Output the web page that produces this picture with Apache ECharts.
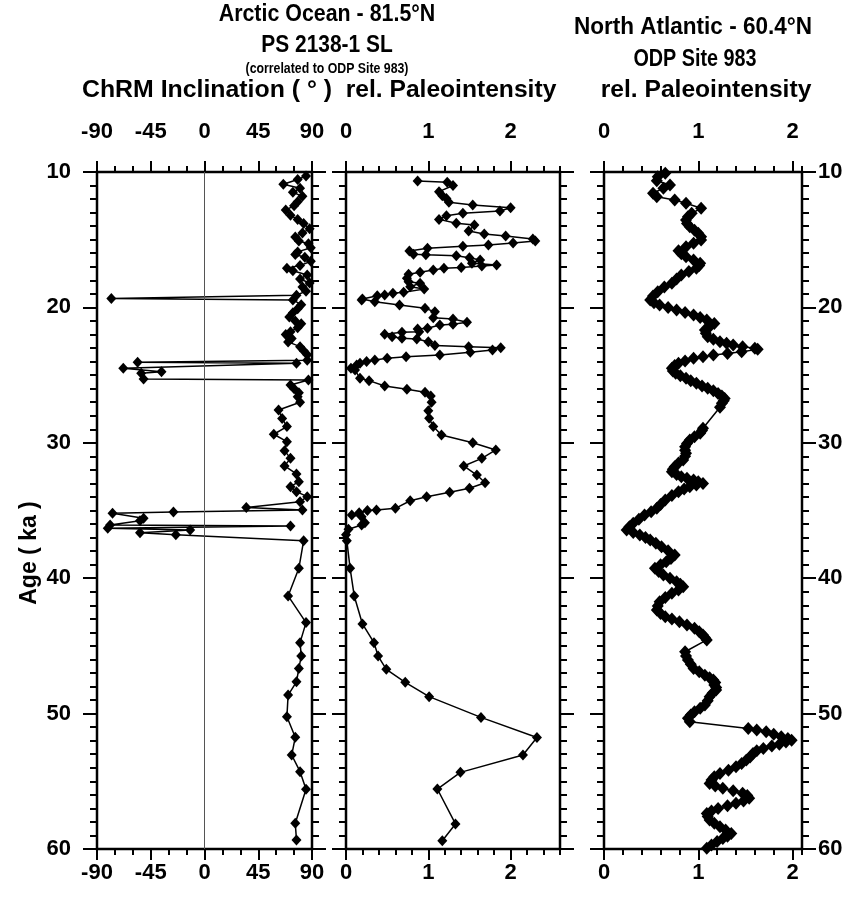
<!DOCTYPE html>
<html>
<head>
<meta charset="utf-8">
<script src="https://cdn.jsdelivr.net/npm/echarts@6/dist/echarts.min.js"></script>
<style>
  html, body { margin: 0; padding: 0; background: #fff; }
  #chart { width: 866px; height: 901px; }
</style>
</head>
<body>
<div id="chart"></div>
<script>
// PS 2138-1 SL, ChRM inclination (deg) vs age (ka)
const incAge = [10.3, 10.55, 10.9, 11.2, 11.5, 11.8, 12.2, 12.5, 12.8, 13.2, 13.5, 13.8, 14.2, 14.5, 14.8,
  15.1, 15.3, 15.6, 15.9, 16.1, 16.3, 16.6, 16.9, 17.1, 17.3, 17.6, 17.9, 18.2, 18.5, 18.8, 19.1, 19.35,
  19.45, 19.8, 20.1, 20.4, 20.7, 21.0, 21.2, 21.5, 21.8, 22.0, 22.3, 22.55, 22.9, 23.2, 23.5, 23.9, 24.06,
  24.13, 24.5, 24.75, 24.87, 25.29, 25.36, 25.73, 26.0, 26.3, 26.6, 27.0, 27.58, 28.2, 28.8, 29.37, 29.92,
  30.58, 31.15, 31.71, 32.3, 32.87, 33.24, 33.61, 33.98, 34.35, 34.77, 34.96, 35.12, 35.2, 35.58, 35.75,
  36.07, 36.15, 36.32, 36.44, 36.64, 36.8, 37.23, 39.27, 41.31, 43.28, 44.76, 45.75, 46.66, 47.65, 48.63,
  50.23, 51.75, 53.06, 54.29, 55.59, 58.1, 59.34];
const incVal = [85, 78, 66, 80, 74, 82, 78, 75, 68, 72, 78, 83, 88, 82, 76,
  79, 87, 89, 78, 76, 84, 89, 80, 69, 74, 86, 80, 88, 82, 85, 77, -78,
  74, 81, 78, 74, 71, 76, 81, 78, 72, 68, 73, 70, 80, 83, 86, 86, -56,
  77, -68, -36, -53, -51, 87, 72, 75, 79, 78, 80, 62, 65, 69, 58, 69,
  67, 72, 67, 77, 79, 72, 77, 86, 80, 35, 82, -26, -77, -51, -54,
  -79, 72, -81, -12, -54, -24, 83, 79, 70, 85, 80, 81, 79, 77, 70,
  69, 76, 73, 80, 85, 76, 77];

// PS 2138-1 SL, relative paleointensity
const psAge = [10.66, 10.76, 11.0, 11.45, 11.75, 11.95, 12.24, 12.44, 12.64, 12.88, 13.05, 13.23, 13.5,
  13.79, 13.91, 14.36, 14.58, 14.73, 14.95, 15.1, 15.24, 15.39, 15.49, 15.64, 15.83, 16.08, 16.12, 16.18,
  16.33, 16.5, 16.74, 16.87, 16.95, 17.05, 17.11, 17.24, 17.41, 17.56, 17.85, 18.1, 18.22, 18.47, 18.64,
  18.89, 18.96, 19.08, 19.14, 19.38, 19.45, 19.58, 19.82, 20.07, 20.32, 20.76, 20.86, 21.1, 21.25, 21.3,
  21.54, 21.6, 21.8, 21.84, 21.99, 22.16, 22.28, 22.33, 22.53, 22.82, 22.9, 22.98, 23.15, 23.32, 23.52,
  23.64, 23.76, 23.88, 24.0, 24.13, 24.26, 24.5, 24.63, 25.24, 25.41, 25.8, 26.05, 26.27, 26.54, 27.0,
  27.63, 28.19, 28.8, 29.42, 29.99, 30.53, 31.15, 31.71, 32.38, 32.95, 33.36, 33.66, 33.98, 34.28, 34.84,
  34.96, 35.0, 35.16, 35.33, 35.46, 35.9, 36.07, 36.39, 36.8, 37.23, 39.27, 41.31, 43.38, 44.76, 45.75,
  46.73, 47.69, 48.75, 50.28, 51.76, 53.06, 54.34, 55.57, 58.15, 59.39];
const psVal = [0.87, 1.23, 1.30, 1.13, 1.17, 1.22, 1.25, 1.54, 2.00, 1.87, 1.42, 1.22, 1.13,
  1.34, 1.56, 1.49, 1.68, 1.94, 2.27, 2.30, 2.03, 1.73, 1.42, 0.99, 0.77, 0.82, 0.97, 1.34,
  1.50, 1.63, 1.53, 1.83, 1.65, 1.40, 1.19, 1.06, 0.90, 0.76, 0.74, 0.76, 0.90, 0.78, 0.95,
  0.70, 0.57, 0.47, 0.38, 0.20, 0.19, 0.35, 0.65, 0.96, 1.08, 1.06, 1.30, 1.47, 1.30, 1.14,
  0.99, 0.87, 0.89, 0.68, 0.47, 0.56, 0.68, 0.86, 1.00, 1.08, 1.49, 1.88, 1.78, 1.51, 1.14,
  0.73, 0.50, 0.35, 0.25, 0.17, 0.13, 0.06, 0.11, 0.17, 0.28, 0.47, 0.74, 0.96, 1.03, 1.04,
  1.00, 1.01, 1.06, 1.16, 1.54, 1.82, 1.65, 1.43, 1.59, 1.69, 1.50, 1.26, 0.98, 0.78, 0.60,
  0.37, 0.26, 0.16, 0.07, 0.19, 0.23, 0.19, 0.03, 0.0, 0.01, 0.05, 0.10, 0.20, 0.34, 0.39,
  0.49, 0.72, 1.01, 1.64, 2.32, 2.15, 1.39, 1.11, 1.33, 1.17];

// ODP Site 983, relative paleointensity
const odpAge = [10.1, 10.35, 10.64, 10.96, 11.2, 11.57, 11.82, 12.07, 12.31, 12.68, 13.05, 13.3, 13.55,
  13.8, 14.04, 14.3, 14.53, 14.78, 15.02, 15.27, 15.52, 15.81, 16.04, 16.26, 16.5, 16.74, 16.9, 17.11,
  17.35, 17.6, 17.9, 18.22, 18.5, 18.84, 19.15, 19.45, 19.65, 19.82, 20.0, 20.2, 20.38, 20.56, 20.75,
  20.93, 21.18, 21.42, 21.67, 21.9, 22.16, 22.35, 22.53, 22.65, 22.78, 22.9, 23.02, 23.1, 23.27, 23.4,
  23.52, 23.64, 23.76, 23.95, 24.13, 24.3, 24.5, 24.7, 24.87, 25.05, 25.24, 25.42, 25.6, 25.8, 25.98,
  26.15, 26.35, 26.55, 26.72, 26.9, 27.08, 27.38, 28.93, 29.1, 29.3, 29.55, 29.79, 30.05, 30.29, 30.55,
  30.78, 31.0, 31.27, 31.5, 31.77, 31.95, 32.14, 32.35, 32.5, 32.62, 32.75, 32.87, 33.0, 33.12, 33.24,
  33.42, 33.61, 33.9, 34.23, 34.55, 34.84, 35.1, 35.33, 35.65, 35.95, 36.2, 36.44, 36.62, 36.81, 37.0,
  37.18, 37.42, 37.67, 37.98, 38.29, 38.55, 38.78, 39.0, 39.27, 39.5, 39.76, 40.0, 40.26, 40.45, 40.63,
  40.88, 41.12, 41.42, 41.74, 42.05, 42.35, 42.6, 42.84, 43.02, 43.21, 43.45, 43.7, 43.95, 44.2, 44.38,
  44.56, 45.43, 45.75, 46.04, 46.35, 46.66, 46.9, 47.16, 47.35, 47.52, 47.7, 47.89, 48.08, 48.26, 48.5,
  48.75, 49.05, 49.37, 49.6, 49.86, 50.1, 50.35, 50.6, 51.1, 51.22, 51.34, 51.52, 51.71, 51.84, 51.96,
  52.1, 52.26, 52.4, 52.57, 52.75, 52.94, 53.2, 53.43, 53.68, 53.93, 54.18, 54.42, 54.66, 54.9, 55.16,
  55.35, 55.52, 55.7, 55.89, 56.05, 56.26, 56.45, 56.63, 56.8, 57.0, 57.2, 57.37, 57.6, 57.86, 58.1,
  58.35, 58.6, 58.85, 59.05, 59.22, 59.45, 59.71, 59.95];
const odpVal = [0.65, 0.57, 0.56, 0.70, 0.63, 0.52, 0.56, 0.75, 0.87, 1.03, 0.93, 0.89, 0.87,
  0.88, 0.91, 0.96, 1.00, 1.03, 1.03, 0.95, 0.87, 0.79, 0.82, 0.87, 0.95, 1.02, 1.01, 0.98,
  0.90, 0.82, 0.77, 0.72, 0.64, 0.57, 0.52, 0.49, 0.53, 0.59, 0.68, 0.77, 0.86, 0.95, 1.02,
  1.09, 1.17, 1.12, 1.07, 1.08, 1.10, 1.16, 1.23, 1.30, 1.37, 1.47, 1.60, 1.63, 1.46, 1.31,
  1.16, 1.05, 0.95, 0.86, 0.79, 0.75, 0.72, 0.73, 0.76, 0.81, 0.87, 0.92, 0.98, 1.04, 1.10,
  1.16, 1.21, 1.25, 1.28, 1.27, 1.25, 1.23, 1.05, 1.04, 1.02, 0.96, 0.91, 0.88, 0.86, 0.86,
  0.87, 0.86, 0.84, 0.79, 0.75, 0.73, 0.72, 0.77, 0.82, 0.88, 0.95, 1.00, 1.05, 0.98, 0.91,
  0.85, 0.79, 0.72, 0.65, 0.60, 0.56, 0.50, 0.43, 0.37, 0.31, 0.27, 0.24, 0.31, 0.38, 0.44,
  0.49, 0.55, 0.61, 0.68, 0.75, 0.71, 0.66, 0.60, 0.54, 0.58, 0.63, 0.70, 0.77, 0.81, 0.84,
  0.79, 0.72, 0.65, 0.59, 0.57, 0.56, 0.60, 0.65, 0.72, 0.80, 0.88, 0.96, 1.01, 1.05, 1.07,
  1.09, 0.86, 0.87, 0.89, 0.92, 0.95, 1.01, 1.07, 1.12, 1.16, 1.18, 1.17, 1.19, 1.19, 1.15,
  1.12, 1.10, 1.07, 1.02, 0.96, 0.92, 0.89, 0.91, 1.53, 1.62, 1.72, 1.80, 1.88, 1.95, 1.99,
  1.93, 1.86, 1.78, 1.69, 1.62, 1.58, 1.55, 1.51, 1.46, 1.40, 1.32, 1.23, 1.17, 1.14, 1.12,
  1.18, 1.26, 1.37, 1.47, 1.52, 1.54, 1.48, 1.40, 1.31, 1.21, 1.14, 1.09, 1.10, 1.12, 1.17,
  1.23, 1.29, 1.35, 1.31, 1.26, 1.20, 1.14, 1.09];

const incTicks = [-90, -45, 0, 45, 90];
const psTicks = [0, 1, 2];
const odpTicks = [0, 1, 2];
const ageTicks = [10, 20, 30, 40, 50, 60];

const FONT = "'Liberation Sans', Arial, sans-serif";
const black = '#000';

const chartDom = document.getElementById('chart');
const myChart = echarts.init(chartDom);

function pairs(xs, ys) {
  return ys.map((y, i) => [xs[i], y]);
}

const labelStyle = {
  color: black, fontFamily: FONT, fontWeight: 'bold', fontSize: 22
};

// 4 x axes per panel: top major (labels), top minor, bottom major (labels), bottom minor
function xAxesFor(gi, min, max, majors, minor) {
  const out = [];
  ['top', 'bottom'].forEach((pos) => {
    out.push({
      type: 'value', gridIndex: gi, position: pos, min: min, max: max,
      axisLine: { show: false, onZero: false },
      splitLine: { show: false },
      axisTick: { show: true, customValues: majors, length: 11, lineStyle: { color: black, width: 2 } },
      axisLabel: Object.assign({ customValues: majors, margin: pos === 'top' ? 29 : 13 }, labelStyle)
    });
    out.push({
      type: 'value', gridIndex: gi, position: pos, min: min, max: max, interval: minor,
      axisLine: { show: false, onZero: false },
      splitLine: { show: false },
      axisTick: { show: true, length: 6, lineStyle: { color: black, width: 2 } },
      axisLabel: { show: false }
    });
  });
  return out;
}

function yAxesFor(gi, showLeft, showRight) {
  const out = [];
  [['left', showLeft], ['right', showRight]].forEach(([pos, lbl]) => {
    out.push({
      type: 'value', gridIndex: gi, position: pos, min: 10, max: 60, inverse: true,
      axisLine: { show: false, onZero: false },
      splitLine: { show: false },
      axisTick: { show: true, customValues: ageTicks, length: 14, lineStyle: { color: black, width: 2 } },
      axisLabel: Object.assign({ show: lbl, customValues: ageTicks, margin: pos === 'left' ? 26 : 16 }, labelStyle)
    });
    out.push({
      type: 'value', gridIndex: gi, position: pos, min: 10, max: 60, interval: 1, inverse: true,
      axisLine: { show: false, onZero: false },
      splitLine: { show: false },
      axisTick: { show: true, length: 7, lineStyle: { color: black, width: 2 } },
      axisLabel: { show: false }
    });
  });
  return out;
}

const gridBox = { show: true, borderColor: black, borderWidth: 2.5, top: 172, height: 677 };

// centred text, squeezed horizontally to look like the condensed face of the original
function label(text, x, y, size, sx, rot) {
  return {
    type: 'text', x: x, y: y, scaleX: sx, rotation: rot || 0,
    style: {
      text: text, fill: black, font: 'bold ' + size + 'px ' + FONT,
      textAlign: 'center', textVerticalAlign: 'middle', align: 'center', verticalAlign: 'middle'
    }
  };
}

function seriesFor(gi, data, size) {
  return {
    type: 'line', xAxisIndex: gi * 4, yAxisIndex: gi * 4, data: data,
    symbol: 'diamond', symbolSize: size, showAllSymbol: true,
    itemStyle: { color: black },
    lineStyle: { color: black, width: 1.5 },
    clip: false
  };
}

const incSeries = seriesFor(0, pairs(incVal, incAge), [10, 11]);
incSeries.markLine = {
  silent: true, symbol: 'none', label: { show: false },
  lineStyle: { color: '#555', width: 1, type: 'solid' },
  data: [{ xAxis: 0 }]
};

let option = {
  animation: false,
  backgroundColor: '#fff',
  graphic: [
    label('Arctic Ocean - 81.5°N', 327, 15, 23, 0.93),
    label('PS 2138-1 SL', 327, 46, 23, 0.91),
    label('(correlated to ODP Site 983)', 327, 69, 14, 0.88),
    label('ChRM Inclination ( ° )', 207, 91, 23, 1.08),
    label('rel. Paleointensity', 451, 91, 23, 1.07),
    label('North Atlantic - 60.4°N', 693, 28, 23, 0.98),
    label('ODP Site 983', 695, 60, 23, 0.86),
    label('rel. Paleointensity', 706, 91, 23, 1.07),
    {
      type: 'text', x: 30, y: 553, rotation: Math.PI / 2,
      style: {
        text: 'Age ( ka )', fill: black, font: 'bold 23px ' + FONT,
        textAlign: 'center', textVerticalAlign: 'middle', align: 'center', verticalAlign: 'middle'
      }
    }
  ],
  grid: [
    Object.assign({ left: 97, width: 215 }, gridBox),
    Object.assign({ left: 346, width: 214 }, gridBox),
    Object.assign({ left: 604, width: 198 }, gridBox)
  ],
  xAxis: [].concat(
    xAxesFor(0, -90, 90, incTicks, 15),
    xAxesFor(1, 0, 2.6, psTicks, 0.2),
    xAxesFor(2, 0, 2.1, odpTicks, 0.2)
  ),
  yAxis: [].concat(
    yAxesFor(0, true, false),
    yAxesFor(1, false, false),
    yAxesFor(2, false, true)
  ),
  series: [
    incSeries,
    seriesFor(1, pairs(psVal, psAge), [10, 11]),
    seriesFor(2, pairs(odpVal, odpAge), [12, 13])
  ]
};

option && myChart.setOption(option);
</script>
</body>
</html>
